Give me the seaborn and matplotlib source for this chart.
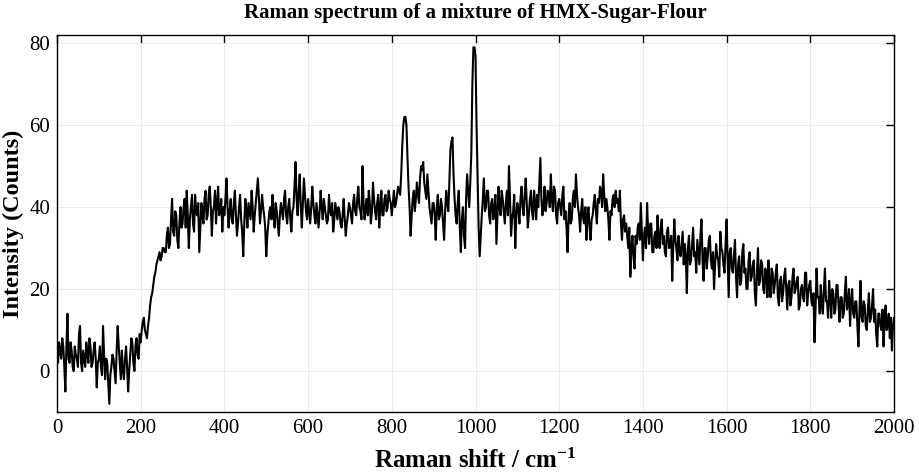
import numpy as np
import pandas as pd
import matplotlib
matplotlib.use("Agg")
import matplotlib.pyplot as plt
import seaborn as sns

# Raman shift sampling: each segment starts at its key (cm^-1), step 2.5 cm^-1
shift_step = 2.5

# Intensity values, grouped per 100 cm^-1
seg_0000 = [4, 2, 7, 5, 3, 8, 6, 1, -5, 6, 14, 3, 2, 7, 5, 1, 0, 6, 4, 3,
            1, 9, 11, 2, 0, 5, 3, 1, 7, 4, 2, 8, 6, 1, 2, 5, 7, 3, -4, 2]
seg_0100 = [3, 6, 1, -1, 11, 4, -2, 3, 2, -3, -8, -1, 1, 4, 3, 0, -3, 5, 11, 6,
            2, -2, 5, 0, -2, 3, 6, 1, -5, 0, 4, 8, 7, 2, 0, 6, 8, 4, 3, 9]
seg_0200 = [7, 10, 12, 13, 10, 9, 8, 11, 13, 16, 18, 19, 21, 23, 24, 26, 27, 28, 29, 27,
            28, 30, 30, 29, 29, 33, 35, 30, 31, 37, 42, 34, 33, 39, 38, 32, 30, 36, 40, 35]
seg_0300 = [36, 40, 42, 35, 44, 38, 30, 37, 40, 43, 36, 34, 43, 39, 38, 41, 29, 35, 41, 38,
            36, 42, 44, 37, 38, 43, 45, 40, 33, 39, 40, 44, 36, 41, 45, 38, 39, 42, 34, 40]
seg_0400 = [38, 42, 47, 40, 35, 39, 42, 37, 36, 41, 44, 38, 33, 36, 40, 43, 37, 34, 28, 36,
            42, 39, 35, 41, 39, 37, 44, 40, 34, 38, 41, 44, 47, 42, 36, 39, 43, 40, 38, 35]
seg_0500 = [28, 33, 36, 39, 40, 37, 43, 38, 35, 41, 39, 36, 33, 38, 41, 39, 37, 42, 44, 38,
            36, 40, 42, 37, 34, 39, 40, 45, 51, 42, 38, 44, 48, 40, 35, 41, 47, 43, 39, 37]
seg_0600 = [42, 39, 36, 40, 45, 41, 38, 36, 41, 38, 35, 39, 44, 40, 37, 42, 40, 38, 36, 37,
            43, 39, 38, 41, 34, 37, 41, 39, 37, 40, 39, 36, 35, 38, 42, 37, 33, 36, 38, 41]
seg_0700 = [40, 38, 36, 41, 43, 39, 38, 42, 45, 40, 39, 37, 50, 41, 37, 40, 42, 38, 44, 41,
            36, 39, 46, 42, 39, 37, 41, 43, 35, 40, 44, 38, 38, 42, 43, 39, 40, 44, 42, 41]
seg_0800 = [38, 41, 44, 40, 41, 43, 45, 44, 43, 48, 55, 60, 62, 62, 60, 52, 45, 40, 33, 38,
            42, 44, 39, 42, 46, 43, 41, 47, 50, 49, 51, 46, 44, 42, 48, 44, 40, 38, 36, 41]
seg_0900 = [41, 38, 32, 40, 43, 37, 38, 42, 40, 36, 32, 39, 44, 41, 39, 46, 54, 56, 57, 48,
            42, 38, 36, 41, 44, 35, 29, 37, 40, 33, 30, 42, 48, 44, 40, 46, 53, 70, 79, 79]
seg_1000 = [77, 60, 47, 35, 28, 33, 38, 42, 47, 39, 40, 44, 44, 38, 36, 41, 42, 37, 39, 43,
            31, 38, 45, 40, 38, 44, 42, 39, 36, 41, 44, 38, 50, 42, 33, 37, 39, 43, 30, 38]
seg_1100 = [41, 39, 36, 42, 45, 40, 38, 43, 47, 41, 35, 38, 42, 44, 39, 37, 44, 41, 37, 43,
            40, 46, 52, 42, 38, 40, 45, 39, 41, 44, 43, 40, 48, 42, 39, 45, 44, 38, 36, 41]
seg_1200 = [42, 40, 38, 43, 45, 37, 39, 35, 29, 38, 41, 36, 37, 42, 44, 40, 48, 43, 40, 38,
            34, 39, 42, 37, 36, 40, 32, 38, 40, 35, 32, 37, 38, 41, 43, 39, 36, 42, 41, 45]
seg_1300 = [44, 40, 48, 43, 39, 42, 40, 37, 32, 39, 38, 42, 43, 40, 44, 41, 42, 39, 44, 36,
            32, 37, 38, 34, 36, 33, 30, 35, 23, 30, 33, 28, 25, 33, 31, 35, 36, 32, 41, 34]
seg_1400 = [27, 33, 35, 30, 41, 34, 31, 36, 36, 29, 29, 33, 34, 30, 38, 32, 30, 35, 37, 31,
            33, 29, 28, 34, 35, 30, 31, 33, 22, 30, 37, 32, 30, 27, 33, 29, 28, 31, 34, 26]
seg_1500 = [31, 28, 19, 30, 33, 26, 27, 31, 35, 28, 29, 24, 32, 29, 26, 33, 37, 27, 22, 30,
            30, 25, 28, 32, 33, 27, 25, 29, 20, 26, 31, 28, 27, 23, 34, 30, 29, 26, 24, 31]
seg_1600 = [37, 27, 18, 29, 30, 25, 24, 28, 32, 23, 18, 26, 28, 21, 22, 29, 31, 24, 25, 20,
            20, 27, 29, 22, 23, 26, 27, 19, 16, 24, 30, 21, 22, 27, 26, 20, 19, 25, 24, 18]
seg_1700 = [27, 21, 18, 25, 24, 19, 21, 24, 26, 18, 16, 22, 23, 17, 19, 23, 25, 20, 15, 21,
            22, 16, 18, 23, 25, 19, 20, 22, 23, 15, 16, 20, 21, 18, 17, 24, 24, 16, 19, 21]
seg_1800 = [22, 17, 16, 19, 7, 15, 25, 18, 18, 14, 21, 16, 14, 20, 25, 17, 17, 13, 22, 18,
            13, 20, 19, 14, 15, 21, 21, 16, 12, 18, 18, 13, 14, 19, 23, 15, 16, 20, 11, 17]
seg_1900 = [20, 14, 13, 17, 17, 11, 6, 15, 22, 13, 12, 17, 16, 11, 10, 15, 19, 12, 13, 16,
            20, 12, 15, 9, 6, 14, 14, 11, 10, 15, 6, 12, 16, 10, 11, 14, 8, 13, 5, 11]
seg_2000 = [13]

segments = {0: seg_0000, 100: seg_0100, 200: seg_0200, 300: seg_0300, 400: seg_0400,
            500: seg_0500, 600: seg_0600, 700: seg_0700, 800: seg_0800, 900: seg_0900,
            1000: seg_1000, 1100: seg_1100, 1200: seg_1200, 1300: seg_1300,
            1400: seg_1400, 1500: seg_1500, 1600: seg_1600, 1700: seg_1700,
            1800: seg_1800, 1900: seg_1900, 2000: seg_2000}

x_ticks = [0, 200, 400, 600, 800, 1000, 1200, 1400, 1600, 1800, 2000]
y_ticks = [0, 20, 40, 60, 80]

title_text = "Raman spectrum of a mixture of HMX-Sugar-Flour"
xlabel_text = "Raman shift / cm$^{\\mathbf{-1}}$"
ylabel_text = "Intensity (Counts)"

shift, intensity = [], []
for start, vals in segments.items():
    for i, v in enumerate(vals):
        shift.append(start + shift_step * i)
        intensity.append(v)
df = pd.DataFrame({"shift": shift, "intensity": intensity})

sns.set_style("white")
plt.rcParams["font.family"] = ["Liberation Serif", "DejaVu Serif"]
plt.rcParams["text.color"] = "black"
plt.rcParams["axes.labelcolor"] = "black"
plt.rcParams["mathtext.fontset"] = "custom"
plt.rcParams["mathtext.rm"] = "Liberation Serif:bold"
plt.rcParams["mathtext.bf"] = "Liberation Serif:bold"
plt.rcParams["mathtext.it"] = "Liberation Serif:bold"

fig = plt.figure(figsize=(9.19, 4.74), dpi=100)
ax = fig.add_axes([57 / 919, 62 / 474, (894 - 57) / 919, (412 - 35) / 474])

sns.lineplot(data=df, x="shift", y="intensity", ax=ax, color="black",
             linewidth=1.5, sort=False)

ax.set_xlim(0, 2000)
ax.set_ylim(-10, 82)
ax.set_xticks(x_ticks)
ax.set_yticks(y_ticks)
ax.grid(True, color="#e6e6e6", linewidth=0.6)
ax.set_axisbelow(True)
ax.tick_params(direction="in", length=6, width=1, top=True, right=True,
               labelsize=15, colors="black", pad=5)
for sp in ax.spines.values():
    sp.set_visible(True)
    sp.set_color("black")
    sp.set_linewidth(1.0)

ax.set_title(title_text, fontsize=15, fontweight="bold", pad=12, color="black")
ax.set_xlabel(xlabel_text, fontsize=18, fontweight="bold", labelpad=8)
ax.set_ylabel(ylabel_text, fontsize=17.5, fontweight="bold", labelpad=4)

fig.savefig("out.png", dpi=100)
